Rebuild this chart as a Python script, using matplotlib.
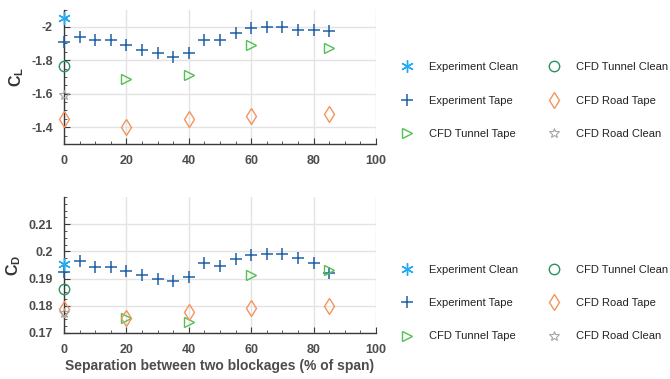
import matplotlib.pyplot as plt
import numpy as np

plt.rcParams['font.family'] = ['Liberation Sans', 'DejaVu Sans']
plt.rcParams['mathtext.fontset'] = 'custom'
plt.rcParams['mathtext.bf'] = 'Liberation Sans:bold'
plt.rcParams['mathtext.rm'] = 'Liberation Sans'

# separation (% of span)
sep_tape = [0, 5, 10, 15, 20, 25, 30, 35, 40, 45, 50, 55, 60, 65, 70, 75, 80, 85]
sep_cfd = [20, 40, 60, 85]
sep_road = [0, 20, 40, 60, 85]

# lift coefficient
cl_exp_clean = [-2.05]
cl_exp_tape = [-1.91, -1.94, -1.92, -1.92, -1.89, -1.86, -1.84, -1.82, -1.84,
               -1.92, -1.92, -1.96, -1.99, -1.995, -1.995, -1.98, -1.98, -1.975]
cl_tunnel_tape = [-1.69, -1.71, -1.89, -1.87]
cl_tunnel_clean = [-1.765]
cl_road_tape = [-1.45, -1.40, -1.45, -1.47, -1.48]
cl_road_clean = [-1.59]

# drag coefficient
cd_exp_clean = [0.1954]
cd_exp_tape = [0.1925, 0.1965, 0.1943, 0.1943, 0.1929, 0.1913, 0.1900, 0.1891, 0.1906,
               0.1957, 0.1946, 0.1973, 0.1985, 0.1990, 0.1990, 0.1975, 0.1959, 0.1921]
cd_tunnel_tape = [0.1754, 0.1742, 0.1913, 0.1931]
cd_tunnel_clean = [0.1860]
cd_road_tape = [0.1788, 0.1754, 0.1778, 0.1790, 0.1798]
cd_road_clean = [0.1775]

c_exp_clean = '#22aaf2'
c_exp_tape = '#1f5fa6'
c_tun_tape = '#52c152'
c_tun_clean = '#2e9160'
c_road_tape = '#f2955e'
c_road_clean = '#a6a6a6'
txt = '#4d4d4d'


def draw(ax, exp_clean, exp_tape, tun_tape, tun_clean, road_tape, road_clean, leg_y):
    h = []
    h += ax.plot([0], exp_clean, ls='none', marker=(6, 2, 0), ms=9, mew=1.0,
                 color=c_exp_clean, label='Experiment Clean', clip_on=False, zorder=5)
    h += ax.plot(sep_tape, exp_tape, ls='none', marker='+', ms=8, mew=1.1,
                 color=c_exp_tape, label='Experiment Tape', clip_on=False, zorder=4)
    h += ax.plot(sep_cfd, tun_tape, ls='none', marker='>', ms=7.5, mew=1.0, mfc='none',
                 color=c_tun_tape, label='CFD Tunnel Tape', clip_on=False, zorder=4)
    h += ax.plot([0], tun_clean, ls='none', marker='o', ms=7.5, mew=1.0, mfc='none',
                 color=c_tun_clean, label='CFD Tunnel Clean', clip_on=False, zorder=4)
    h += ax.plot(sep_road, road_tape, ls='none', marker='d', ms=8, mew=1.0, mfc='none',
                 color=c_road_tape, label='CFD Road Tape', clip_on=False, zorder=4)
    h += ax.plot([0], road_clean, ls='none', marker='*', ms=7, mew=0.8, mfc='none',
                 color=c_road_clean, label='CFD Road Clean', clip_on=False, zorder=4)

    ax.set_xlim(0, 100)
    ax.set_xticks(np.arange(0, 101, 20))
    ax.set_xticks(np.arange(0, 101, 5), minor=True)
    ax.grid(True, which='major', color='#e3e3e3', lw=1.0)
    ax.set_axisbelow(True)
    for s in ['top', 'right']:
        ax.spines[s].set_visible(False)
    for s in ['left', 'bottom']:
        ax.spines[s].set_color('#3a3a3a')
        ax.spines[s].set_linewidth(1.0)
    ax.tick_params(which='both', direction='in', colors='#3a3a3a', labelcolor=txt,
                   labelsize=9)
    ax.tick_params(which='major', length=4, pad=8)
    ax.tick_params(which='minor', length=2.5)
    for lab in ax.get_xticklabels() + ax.get_yticklabels():
        lab.set_fontweight('bold')

    leg = ax.legend(handles=h, ncol=2, frameon=False, fontsize=8,
                    loc='center left', bbox_to_anchor=(1.045, leg_y),
                    handlelength=1.2, handletextpad=1.4, columnspacing=2.6,
                    labelspacing=2.1)
    for t in leg.get_texts():
        t.set_color('#222222')
    return h


fig = plt.figure(figsize=(6.7, 3.79), dpi=100)
ax1 = fig.add_axes([0.0955, 0.620, 0.4657, 0.354])
ax2 = fig.add_axes([0.0955, 0.1214, 0.4657, 0.359])

draw(ax1, cl_exp_clean, cl_exp_tape, cl_tunnel_tape, cl_tunnel_clean,
     cl_road_tape, cl_road_clean, 0.324)
ax1.set_ylim(-1.3, -2.1)
ax1.set_yticks([-2, -1.8, -1.6, -1.4])
ax1.set_yticklabels(['-2', '-1.8', '-1.6', '-1.4'], fontweight='bold')
ax1.set_yticks(np.arange(-2.1, -1.29, 0.05), minor=True)
ax1.set_ylabel(r'$\mathbf{C}_\mathbf{L}$', fontsize=11.5, color='#333333', labelpad=4)

draw(ax2, cd_exp_clean, cd_exp_tape, cd_tunnel_tape, cd_tunnel_clean,
     cd_road_tape, cd_road_clean, 0.22)
ax2.set_ylim(0.17, 0.22)
ax2.set_yticks([0.17, 0.18, 0.19, 0.2, 0.21])
ax2.set_yticklabels(['0.17', '0.18', '0.19', '0.2', '0.21'], fontweight='bold')
ax2.set_yticks(np.arange(0.17, 0.2201, 0.0025), minor=True)
ax2.set_ylabel(r'$\mathbf{C}_\mathbf{D}$', fontsize=11.5, color='#333333', labelpad=4)
ax2.set_xlabel('Separation between two blockages (% of span)', fontsize=10,
               fontweight='bold', color=txt, labelpad=2)

fig.savefig('out.png', dpi=100)
